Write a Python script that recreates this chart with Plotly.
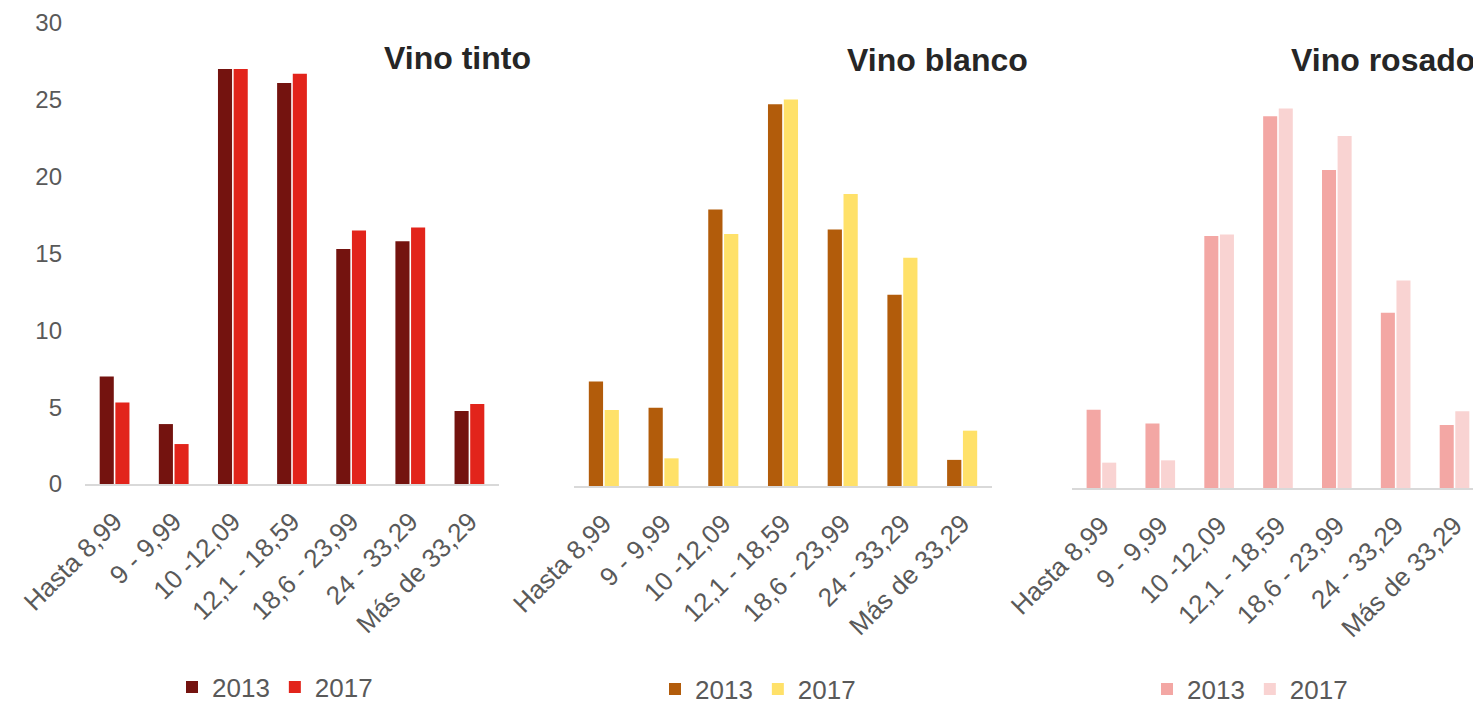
import plotly.graph_objects as go
from plotly.subplots import make_subplots

# price ranges (euros)
RANGES = ["Hasta 8,99", "9 - 9,99", "10 -12,09", "12,1 - 18,59",
          "18,6 - 23,99", "24 - 33,29", "Más de 33,29"]
YEARS = ["2013", "2017"]
TITLES = ["Vino tinto", "Vino blanco", "Vino rosado"]

tinto_2013 = [7.0, 3.9, 27.0, 26.1, 15.3, 15.8, 4.75]
tinto_2017 = [5.3, 2.6, 27.0, 26.7, 16.5, 16.7, 5.2]
blanco_2013 = [6.8, 5.1, 18.0, 24.85, 16.7, 12.45, 1.7]
blanco_2017 = [4.95, 1.8, 16.4, 25.15, 19.0, 14.85, 3.6]
rosado_2013 = [5.1, 4.2, 16.4, 24.2, 20.7, 11.4, 4.1]
rosado_2017 = [1.65, 1.8, 16.5, 24.7, 22.9, 13.5, 5.0]

COLORS = [
    ("#74130F", "#E2241B"),
    ("#B25C0B", "#FFE169"),
    ("#F3A7A4", "#F9D3D2"),
]

FONT = "Liberation Sans, Arial, sans-serif"
GREY = "#595959"

series = [(tinto_2013, tinto_2017), (blanco_2013, blanco_2017), (rosado_2013, rosado_2017)]

fig = make_subplots(rows=1, cols=3)

for i, (s13, s17) in enumerate(series):
    leg = "legend" if i == 0 else f"legend{i + 1}"
    for vals, year, col in zip((s13, s17), YEARS, COLORS[i]):
        fig.add_trace(go.Bar(
            x=RANGES, y=vals, name=year, marker_color=col,
            marker_line_width=0, legend=leg,
        ), row=1, col=i + 1)

# panel placement, in pixels of the 1481x705 window
# (the page body has an 8px margin, so the figure is shifted by OFF)
OFF = 8
W, H = 1481 - OFF, 705 - OFF


def fx(px):
    return (px - OFF) / W


def fy(py):
    return 1 - (py - OFF) / H


x_doms = [(85, 499), (574, 992), (1072, 1481)]
y_doms = [(484, 23), (486, 25), (488, 27)]
x_ranges = [[-0.5, 6.5], [-0.5, 6.5], [-0.5, 6.45]]

for i in range(3):
    sx = "" if i == 0 else str(i + 1)
    fig.layout[f"xaxis{sx}"].update(
        domain=[fx(x_doms[i][0]), min(1, fx(x_doms[i][1]))],
        range=x_ranges[i], automargin=False,
        showline=True, linecolor="#D9D9D9", linewidth=2,
        showgrid=False, ticks="", tickangle=-45,
        tickfont=dict(family=FONT, size=26, color=GREY),
        ticklabelstandoff=10,
    )
    fig.layout[f"yaxis{sx}"].update(
        domain=[fy(y_doms[i][0]), fy(y_doms[i][1])],
        range=[0, 30], dtick=5, showgrid=False, zeroline=False,
        showline=False, ticks="", automargin=False,
        showticklabels=(i == 0),
        tickfont=dict(family=FONT, size=24, color=GREY),
        ticklabelstandoff=22,
    )

title_pos = [(533, 58), (1030, 60), (1477, 60)]
for t, (px, py) in zip(TITLES, title_pos):
    fig.add_annotation(
        text=f"<b>{t}</b>", x=fx(px), y=fy(py), xref="paper", yref="paper",
        xanchor="right", yanchor="middle", showarrow=False,
        font=dict(family=FONT, size=32, color="#262626"),
    )

leg_pos = [(275, 687), (758, 689), (1250, 689)]
for i, (px, py) in enumerate(leg_pos):
    key = "legend" if i == 0 else f"legend{i + 1}"
    fig.layout[key] = dict(
        orientation="h", x=fx(px), y=fy(py), xanchor="center", yanchor="middle",
        font=dict(family=FONT, size=26, color=GREY), itemwidth=30,
        bgcolor="rgba(0,0,0,0)", tracegroupgap=0,
    )

fig.update_layout(
    width=W, height=H,
    margin=dict(l=0, r=0, t=0, b=0, autoexpand=False),
    barmode="group", bargap=0.47, bargroupgap=0.1,
    plot_bgcolor="white", paper_bgcolor="white",
    showlegend=True,
)

fig.write_html("out.html")
